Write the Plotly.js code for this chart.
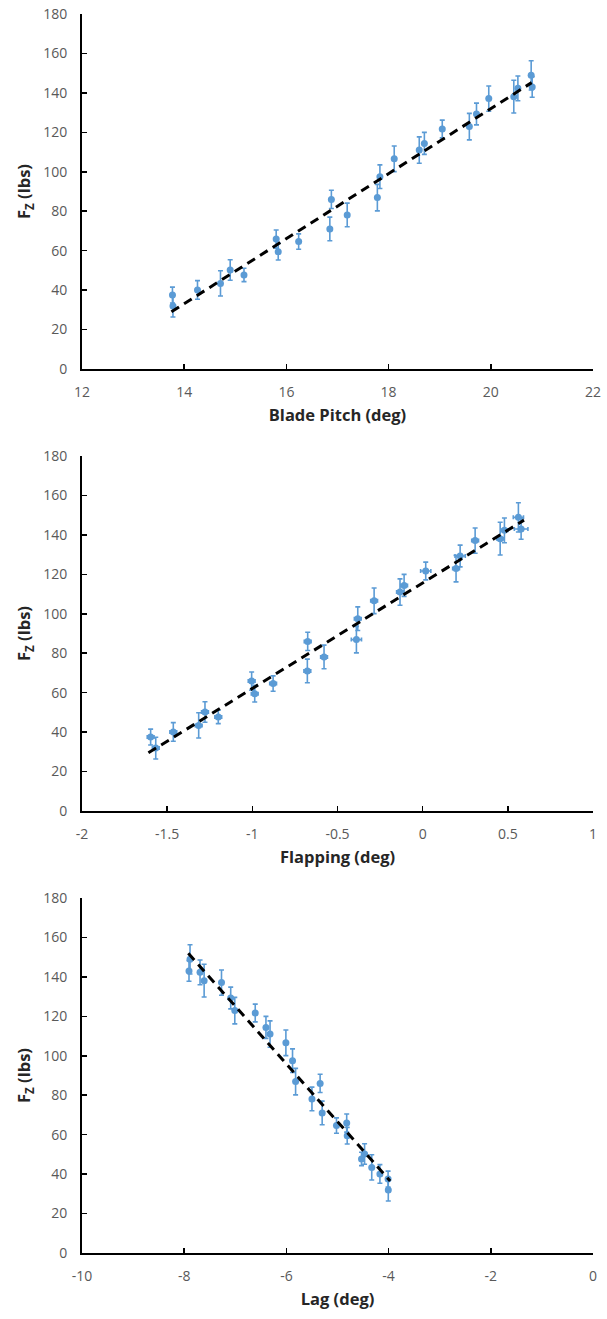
<!DOCTYPE html>
<html>
<head>
<meta charset="utf-8">
<script src="https://cdn.plot.ly/plotly-3.0.1.min.js"></script>
<style>
  html, body { margin: 0; padding: 0; background: #fff; }
  #chart { width: 607px; height: 1319px; }
</style>
</head>
<body>
<div id="chart"></div>
<script>
// Shared vertical force measurements (lbs) and their uncertainty
const fz      = [37.5, 31.9, 40.1, 43.4, 50.2, 47.7, 65.9, 59.5, 64.6, 71.0, 86.0, 78.1, 86.9, 97.5, 106.6, 111.0, 114.4, 121.7, 122.9, 129.3, 137.1, 138.1, 142.3, 148.9, 143.0];
const fzErr   = [4.0, 5.5, 4.7, 6.4, 5.2, 3.4, 4.6, 4.2, 3.9, 6.0, 4.6, 6.0, 6.7, 6.0, 6.5, 6.7, 5.6, 4.5, 6.7, 5.5, 6.4, 8.3, 6.3, 7.4, 5.2];

// Panel 1: blade pitch (deg)
const pitch   = [13.77, 13.78, 14.26, 14.71, 14.90, 15.17, 15.80, 15.84, 16.24, 16.85, 16.88, 17.19, 17.78, 17.83, 18.11, 18.60, 18.70, 19.05, 19.58, 19.72, 19.96, 20.45, 20.53, 20.79, 20.81];
const pitchTrendX = [13.75, 20.80];
const pitchTrendY = [29.0, 145.2];

// Panel 2: flapping (deg)
const flap    = [-1.597, -1.567, -1.464, -1.315, -1.278, -1.200, -1.004, -0.986, -0.878, -0.677, -0.675, -0.579, -0.389, -0.381, -0.285, -0.133, -0.109, 0.018, 0.196, 0.220, 0.308, 0.455, 0.480, 0.562, 0.578];
const flapErr = [0.02, 0.02, 0.02, 0.02, 0.02, 0.02, 0.02, 0.02, 0.02, 0.02, 0.02, 0.02, 0.03, 0.02, 0.02, 0.02, 0.02, 0.03, 0.02, 0.03, 0.02, 0.02, 0.02, 0.03, 0.04];
const flapTrendX = [-1.61, 0.595];
const flapTrendY = [29.5, 147.5];

// Panel 3: lag (deg)
const lag     = [-4.01, -4.006, -4.17, -4.33, -4.47, -4.53, -4.82, -4.81, -5.02, -5.30, -5.34, -5.50, -5.82, -5.88, -6.01, -6.32, -6.40, -6.61, -7.01, -7.09, -7.27, -7.61, -7.69, -7.886, -7.906];
const lagTrendX = [-7.92, -3.97];
const lagTrendY = [152.0, 36.5];

// Tick values / labels
const fzTicks    = [0, 20, 40, 60, 80, 100, 120, 140, 160, 180];
const pitchTicks = [12, 14, 16, 18, 20, 22];
const flapTicks  = [-2, -1.5, -1, -0.5, 0, 0.5, 1];
const flapLabels = ['-2', '-1.5', '-1', '-0.5', '0', '0.5', '1'];
const lagTicks   = [-10, -8, -6, -4, -2, 0];

const blue = '#5B9BD5';
const FONT = '"Open Sans", Lato, sans-serif';

function pts(x, xa, ya, xerr) {
  const t = {
    x: x, y: fz, xaxis: xa, yaxis: ya, type: 'scatter', mode: 'markers',
    marker: { color: blue, size: 7 },
    error_y: { type: 'data', array: fzErr, visible: true, color: blue, thickness: 1.6, width: 2.5 },
    hoverinfo: 'skip', showlegend: false
  };
  if (xerr) t.error_x = { type: 'data', array: xerr, visible: true, color: blue, thickness: 1.6, width: 2 };
  return t;
}
function trend(x, y, xa, ya) {
  return { x: x, y: y, xaxis: xa, yaxis: ya, type: 'scatter', mode: 'lines',
    line: { color: '#000', width: 3, dash: '9px,6px' }, hoverinfo: 'skip', showlegend: false };
}

const data = [
  pts(pitch, 'x', 'y'), trend(pitchTrendX, pitchTrendY, 'x', 'y'),
  pts(flap, 'x2', 'y2', flapErr), trend(flapTrendX, flapTrendY, 'x2', 'y2'),
  pts(lag, 'x3', 'y3'), trend(lagTrendX, lagTrendY, 'x3', 'y3')
];

const H = 1319, W = 607;
const xdom = [82 / W, 593 / W];
function ydom(top, bottom) { return [1 - bottom / H, 1 - top / H]; }

function xAx(range, ticks, labels, title, anchor) {
  return {
    domain: xdom, range: range, anchor: anchor, tickmode: 'array', tickvals: ticks,
    ticktext: labels || ticks.map(String),
    showline: true, linecolor: '#000', linewidth: 2, ticks: 'inside', ticklen: 5, tickwidth: 1.5, tickcolor: '#000',
    showgrid: false, zeroline: false, mirror: false,
    tickfont: { family: FONT, size: 14, color: '#595959' }, ticklabelstandoff: 9,
    title: { text: title, font: { family: FONT, size: 16.5, color: '#262626' }, standoff: 10 },
    fixedrange: true
  };
}
function yAx(dom, anchor) {
  return {
    domain: dom, range: [0, 180], anchor: anchor, tickmode: 'array', tickvals: fzTicks,
    showline: true, linecolor: '#000', linewidth: 2, ticks: 'inside', ticklen: 5, tickwidth: 1.5, tickcolor: '#000',
    showgrid: false, zeroline: false,
    tickfont: { family: FONT, size: 14, color: '#595959' }, ticklabelstandoff: 10,
    title: { text: '<b>F<sub>Z</sub> (lbs)</b>', font: { family: FONT, size: 16.5, color: '#262626' }, standoff: 8 },
    fixedrange: true
  };
}

const layout = {
  width: W, height: H, margin: { l: 0, r: 0, t: 0, b: 0 },
  paper_bgcolor: '#fff', plot_bgcolor: '#fff', showlegend: false,
  xaxis:  xAx([12, 22], pitchTicks, null, '<b>Blade Pitch (deg)</b>', 'y'),
  yaxis:  yAx(ydom(14, 369), 'x'),
  xaxis2: xAx([-2, 1], flapTicks, flapLabels, '<b>Flapping (deg)</b>', 'y2'),
  yaxis2: yAx(ydom(456, 811), 'x2'),
  xaxis3: xAx([-10, 0], lagTicks, null, '<b>Lag (deg)</b>', 'y3'),
  yaxis3: yAx(ydom(898, 1253), 'x3')
};

Plotly.newPlot('chart', data, layout, { displayModeBar: false, staticPlot: true });
</script>
</body>
</html>
